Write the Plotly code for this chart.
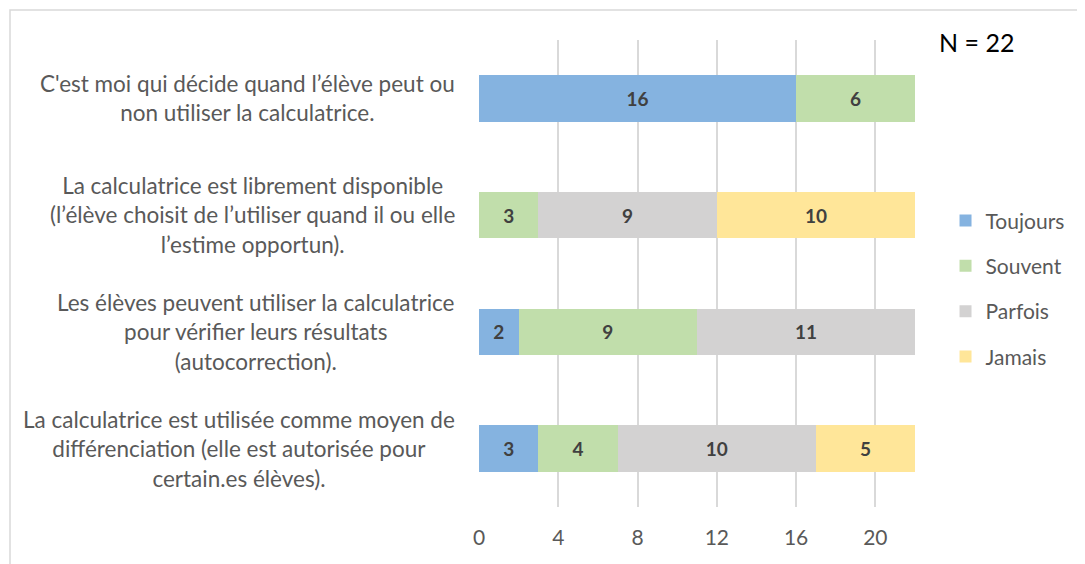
import plotly.graph_objects as go

categories = [
    "C'est moi qui décide quand l’élève peut ou<br>non utiliser la calculatrice.",
    "La calculatrice est librement disponible<br>(l’élève choisit de l’utiliser quand il ou elle<br>l’estime opportun).",
    "Les élèves peuvent utiliser la calculatrice<br>pour vérifier leurs résultats<br>(autocorrection).",
    "La calculatrice est utilisée comme moyen de<br>différenciation (elle est autorisée pour<br>certain.es élèves).",
]
cat_ids = ["q1", "q2", "q3", "q4"]
series_names = ["Toujours", "Souvent", "Parfois", "Jamais"]
toujours = [16, 0, 2, 3]
souvent = [6, 3, 9, 4]
parfois = [0, 9, 11, 10]
jamais = [0, 10, 0, 5]
colors = ["#85B3E0", "#C1DEAB", "#D3D2D2", "#FFE699"]
x_ticks = [0, 4, 8, 12, 16, 20]

FONT = "Lato"
fig = go.Figure()
for name, vals, col in zip(series_names, [toujours, souvent, parfois, jamais], colors):
    fig.add_trace(go.Bar(
        y=cat_ids, x=vals, name=name, orientation="h",
        marker=dict(color=col, line=dict(width=0)),
        text=[str(v) if v else "" for v in vals],
        textposition="inside", insidetextanchor="middle",
        textfont=dict(family=FONT, size=19, color="#404040", weight="bold"),
        legendgroup=name,
    ))

for cid, label in zip(cat_ids, categories):
    fig.add_annotation(
        x=-0.05, xref="paper", y=cid, yref="y", text=label, showarrow=False,
        xanchor="right", yanchor="middle", align="center",
        font=dict(family=FONT, size=22.5, color="#595959"),
    )

fig.add_annotation(
    x=1.05, xref="paper", y=0.9957, yref="paper", text="N = 22", showarrow=False,
    xanchor="left", yanchor="middle", font=dict(family=FONT, size=25, color="#000000"),
)

fig.add_shape(type="rect", xref="paper", yref="paper",
              x0=-1.0757, x1=1.45, y0=-0.2, y1=1.0642,
              line=dict(color="#D9D9D9", width=1.5), fillcolor="rgba(0,0,0,0)", layer="below")

fig.update_layout(
    width=1077, height=556,
    margin=dict(l=471, r=170, t=32, b=57),
    barmode="stack", bargap=0.6,
    plot_bgcolor="white", paper_bgcolor="white",
    font=dict(family=FONT, color="#595959"),
    xaxis=dict(range=[0, 22], tickvals=x_ticks, showgrid=True, gridcolor="#D9D9D9", gridwidth=1.5,
               zeroline=False, showline=False, ticks="", tickfont=dict(size=21, color="#595959"),
               ticklabelstandoff=16),
    yaxis=dict(categoryorder="array", categoryarray=cat_ids[::-1], showticklabels=False,
               showgrid=False, zeroline=False, showline=False),
    legend=dict(x=1.07, xanchor="left", y=0.467, yanchor="middle", traceorder="grouped",
                tracegroupgap=15, font=dict(family=FONT, size=21, color="#595959"),
                itemwidth=30),
    showlegend=True,
)

fig.write_html("out.html")
